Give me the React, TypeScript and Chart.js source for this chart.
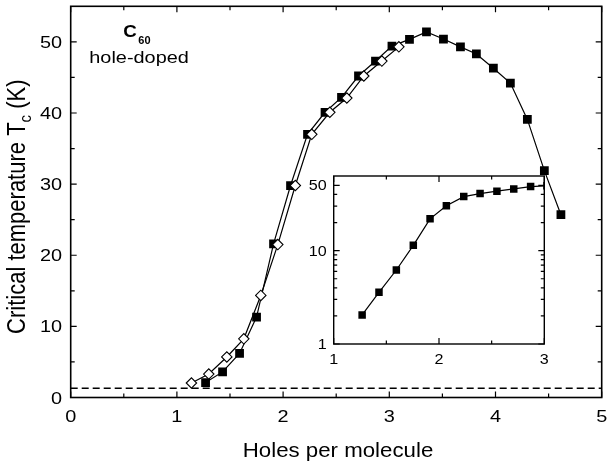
import React, { useEffect, useRef } from "react";
import { Chart, registerables } from "chart.js";

Chart.register(...registerables);

// ---- Data ----
const squareX = [1.27, 1.43, 1.59, 1.75, 1.91, 2.07, 2.23, 2.395, 2.55, 2.71, 2.87, 3.025, 3.19, 3.35, 3.51, 3.67, 3.82, 3.98, 4.14, 4.3, 4.46, 4.616];
const squareY = [2.1, 3.6, 6.2, 11.3, 21.6, 29.8, 37.0, 40.1, 42.2, 45.2, 47.3, 49.4, 50.35, 51.4, 50.4, 49.3, 48.3, 46.3, 44.2, 39.1, 31.9, 25.7];
const diamondX = [1.137, 1.3, 1.47, 1.63, 1.79, 1.95, 2.115, 2.27, 2.44, 2.6, 2.76, 2.93, 3.09];
const diamondY = [2.04, 3.3, 5.7, 8.25, 14.35, 21.5, 29.8, 37.0, 40.1, 42.1, 45.2, 47.3, 49.3];
const insetX = [1.27, 1.43, 1.595, 1.756, 1.915, 2.07, 2.235, 2.39, 2.55, 2.71, 2.87, 3.025];
const insetY = [2.05, 3.58, 6.2, 11.4, 21.9, 30.3, 37.9, 40.8, 43.3, 45.8, 48.5, 49.4];
const limitX = [0, 5];
const limitY = [1.3, 1.3];

const xTicks = [0, 1, 2, 3, 4, 5];
const xMinor = [0.5, 1.5, 2.5, 3.5, 4.5];
const yTicks = [0, 10, 20, 30, 40, 50];
const yMinor = [5, 15, 25, 35, 45];
const insetXTicks = [1, 2, 3];
const insetXMinor = [1.5, 2.5];
const insetYTicks = [1, 10, 50];
const insetYMinor = [2, 3, 4, 5, 6, 7, 8, 9, 20, 30, 40];

const FONT = "'Liberation Sans', Arial, sans-serif";

function stretchText(ctx: CanvasRenderingContext2D, text: string, x: number, y: number, sx: number, align: CanvasTextAlign, font: string) {
  ctx.save();
  ctx.translate(x, y);
  ctx.scale(sx, 1);
  ctx.font = font;
  ctx.textAlign = align;
  ctx.textBaseline = "alphabetic";
  ctx.fillStyle = "#000";
  ctx.fillText(text, 0, 0);
  ctx.restore();
}

function drawFrame(chart: any, xs: number[], xm: number[], ys: number[], ym: number[], lw: number, major: number, minor: number) {
  const ctx = chart.ctx as CanvasRenderingContext2D;
  const { left, right, top, bottom } = chart.chartArea;
  const xScale = chart.scales.x;
  const yScale = chart.scales.y;
  ctx.save();
  ctx.strokeStyle = "#000";
  ctx.lineWidth = 1.2;
  ctx.beginPath();
  const tickX = (v: number, len: number) => {
    const p = xScale.getPixelForValue(v);
    ctx.moveTo(p, bottom);
    ctx.lineTo(p, bottom - len);
    ctx.moveTo(p, top);
    ctx.lineTo(p, top + len);
  };
  const tickY = (v: number, len: number) => {
    const p = yScale.getPixelForValue(v);
    ctx.moveTo(left, p);
    ctx.lineTo(left + len, p);
    ctx.moveTo(right, p);
    ctx.lineTo(right - len, p);
  };
  xs.forEach((v) => tickX(v, major));
  xm.forEach((v) => tickX(v, minor));
  ys.forEach((v) => tickY(v, major));
  ym.forEach((v) => tickY(v, minor));
  ctx.stroke();
  ctx.lineWidth = lw;
  ctx.strokeRect(left, top, right - left, bottom - top);
  ctx.restore();
}

const mainPlugin = {
  id: "mainDecor",
  afterDraw(chart: any) {
    const ctx = chart.ctx as CanvasRenderingContext2D;
    drawFrame(chart, xTicks, xMinor, yTicks, yMinor, 1.6, 6, 4);
    const xs = chart.scales.x;
    const ys = chart.scales.y;
    const tf = `17px ${FONT}`;
    xTicks.forEach((v) => stretchText(ctx, String(v), xs.getPixelForValue(v), 421.7, 1.17, "center", tf));
    yTicks.forEach((v) => stretchText(ctx, String(v), 62, ys.getPixelForValue(v) + 6.1, 1.17, "right", tf));
    // x title
    stretchText(ctx, "Holes per molecule", 338, 456.7, 1.06, "center", `21px ${FONT}`);
    // y title with subscript
    ctx.save();
    ctx.translate(25, 206.7);
    ctx.scale(1.15, 1);
    ctx.rotate(-Math.PI / 2);
    ctx.fillStyle = "#000";
    ctx.textBaseline = "alphabetic";
    ctx.textAlign = "left";
    const mainF = `22px ${FONT}`;
    const subF = `15px ${FONT}`;
    const p1 = "Critical temperature T";
    const p2 = "c";
    const p3 = " (K)";
    ctx.font = mainF;
    const w1 = ctx.measureText(p1).width;
    const w3 = ctx.measureText(p3).width;
    ctx.font = subF;
    const w2 = ctx.measureText(p2).width;
    let x = -(w1 + w2 + w3) / 2;
    ctx.font = mainF;
    ctx.fillText(p1, x, 0);
    x += w1;
    ctx.font = subF;
    ctx.fillText(p2, x, 5);
    x += w2;
    ctx.font = mainF;
    ctx.fillText(p3, x, 0);
    ctx.restore();
    // C60 hole-doped
    stretchText(ctx, "C", 123.3, 36.7, 1.17, "left", `bold 16px ${FONT}`);
    stretchText(ctx, "60", 138.3, 44.3, 1.1, "left", `bold 10px ${FONT}`);
    stretchText(ctx, "hole-doped", 89.3, 62.5, 1.17, "left", `17px ${FONT}`);
  },
};

const insetPlugin = {
  id: "insetDecor",
  beforeDraw(chart: any) {
    const ctx = chart.ctx as CanvasRenderingContext2D;
    const { left, right, top, bottom } = chart.chartArea;
    ctx.save();
    ctx.fillStyle = "#fff";
    ctx.fillRect(left, top, right - left, bottom - top);
    ctx.restore();
  },
  afterDraw(chart: any) {
    const ctx = chart.ctx as CanvasRenderingContext2D;
    drawFrame(chart, insetXTicks, insetXMinor, insetYTicks, insetYMinor, 1.4, 6, 3.5);
    const xs = chart.scales.x;
    const ys = chart.scales.y;
    const tf = `14px ${FONT}`;
    insetXTicks.forEach((v) => stretchText(ctx, String(v), xs.getPixelForValue(v), 195.5, 1.15, "center", tf));
    insetYTicks.forEach((v) => stretchText(ctx, String(v), 30.7, ys.getPixelForValue(v) + 5, 1.15, "right", tf));
  },
};

export default function App() {
  const mainRef = useRef<HTMLCanvasElement | null>(null);
  const insetRef = useRef<HTMLCanvasElement | null>(null);

  useEffect(() => {
    if (!mainRef.current || !insetRef.current) return;
    const main = new Chart(mainRef.current, {
      type: "line",
      data: {
        datasets: [
          {
            label: "diamonds",
            data: diamondX.map((x, i) => ({ x, y: diamondY[i] })),
            borderColor: "#000",
            borderWidth: 1.2,
            pointStyle: "rectRot",
            pointRadius: 5.2,
            pointBackgroundColor: "#fff",
            pointBorderColor: "#000",
            pointBorderWidth: 1.1,
            tension: 0,
            order: 0,
          },
          {
            label: "squares",
            data: squareX.map((x, i) => ({ x, y: squareY[i] })),
            borderColor: "#000",
            borderWidth: 1.2,
            pointStyle: "rect",
            pointRadius: 6.2,
            pointBackgroundColor: "#000",
            pointBorderColor: "#000",
            pointBorderWidth: 0,
            tension: 0,
            order: 1,
          },
          {
            label: "limit",
            data: limitX.map((x, i) => ({ x, y: limitY[i] })),
            borderColor: "#000",
            borderWidth: 1.3,
            borderDash: [7, 4],
            pointRadius: 0,
            order: 2,
          },
        ],
      },
      options: {
        responsive: false,
        animation: false,
        devicePixelRatio: 1,
        layout: { padding: { left: 70.7, right: 2.5, top: 4, bottom: 67.5 } },
        plugins: { legend: { display: false }, tooltip: { enabled: false } },
        scales: {
          x: { type: "linear", min: 0, max: 5, display: false },
          y: { type: "linear", min: 0, max: 55, display: false },
        },
      },
      plugins: [mainPlugin],
    });

    const inset = new Chart(insetRef.current, {
      type: "line",
      data: {
        datasets: [
          {
            label: "inset",
            data: insetX.map((x, i) => ({ x, y: insetY[i] })),
            borderColor: "#000",
            borderWidth: 1.2,
            pointStyle: "rect",
            pointRadius: 5.3,
            pointBackgroundColor: "#000",
            pointBorderColor: "#000",
            pointBorderWidth: 0,
            tension: 0,
            clip: 0,
          },
        ],
      },
      options: {
        responsive: false,
        animation: false,
        devicePixelRatio: 1,
        layout: { padding: { left: 37.7, right: 7.7, top: 8, bottom: 24 } },
        plugins: { legend: { display: false }, tooltip: { enabled: false } },
        scales: {
          x: { type: "linear", min: 1, max: 3, display: false },
          y: { type: "logarithmic", min: 1, max: 63, display: false },
        },
      },
      plugins: [insetPlugin],
    });

    return () => {
      main.destroy();
      inset.destroy();
    };
  }, []);

  return (
    <div style={{ position: "fixed", left: 0, top: 0, width: 608, height: 465, background: "#fff" }}>
      <canvas ref={mainRef} width={608} height={465} style={{ position: "absolute", left: 0, top: 0, width: 608, height: 465 }} />
      <canvas ref={insetRef} width={256} height={200} style={{ position: "absolute", left: 296, top: 168, width: 256, height: 200 }} />
    </div>
  );
}
